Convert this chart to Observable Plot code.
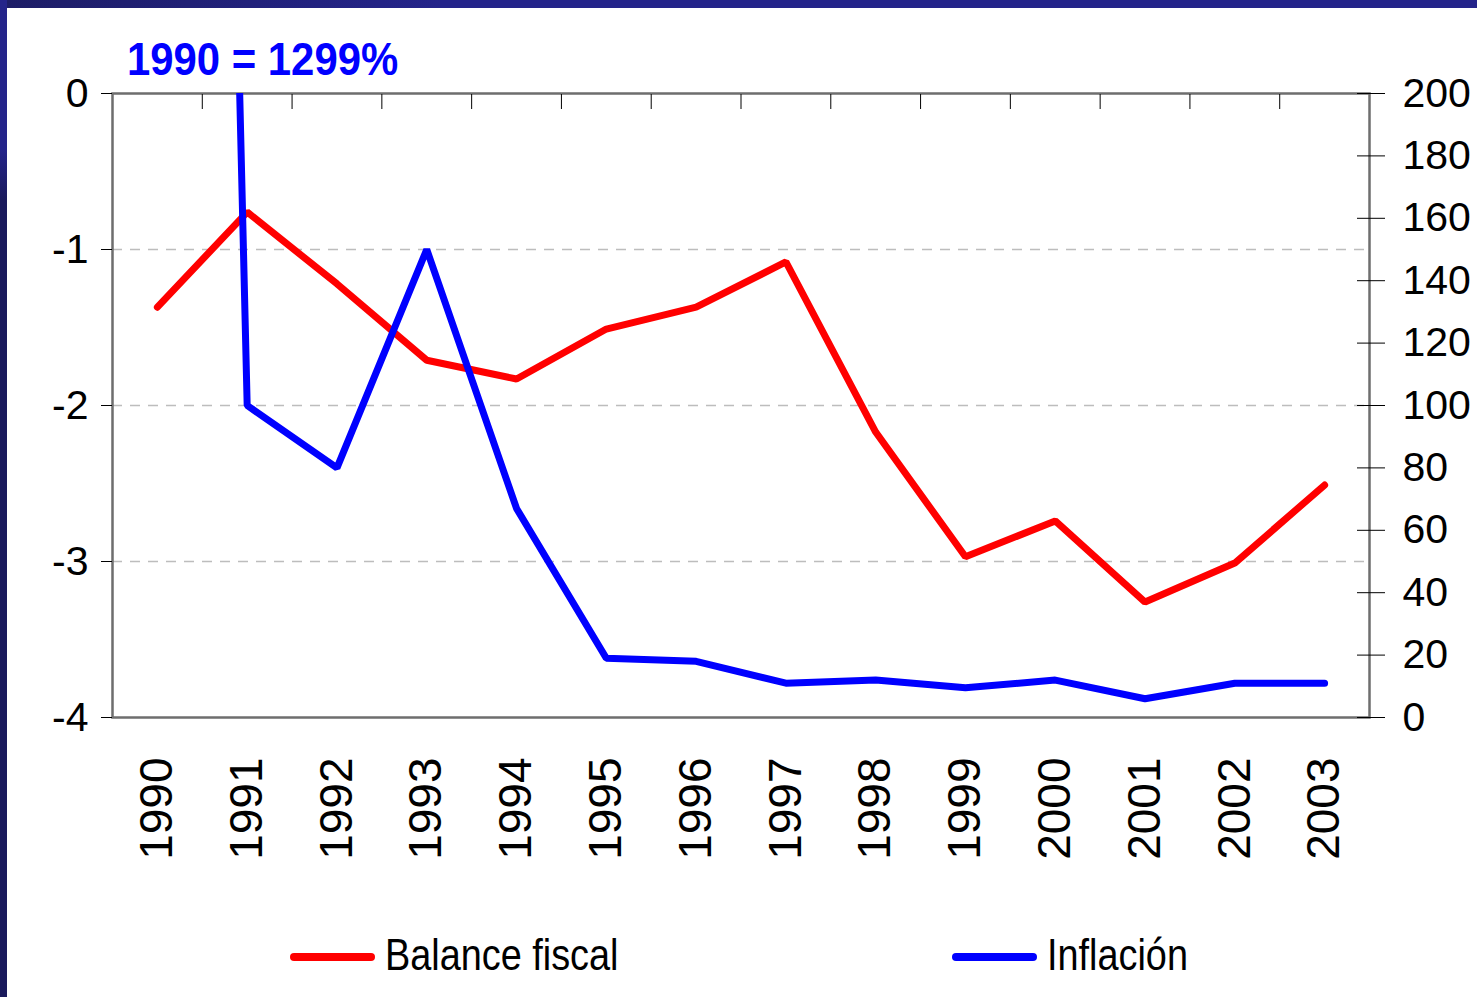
<!DOCTYPE html>
<html>
<head>
<meta charset="utf-8">
<script src="https://cdn.jsdelivr.net/npm/d3@7"></script>
<script src="https://cdn.jsdelivr.net/npm/@observablehq/plot@0.6"></script>
<style>
  html, body { margin: 0; padding: 0; width: 1477px; height: 997px; overflow: hidden; background: #ffffff; font-family: "Liberation Sans", Arial, sans-serif; }
  #bandTop { position: absolute; left: 0; top: 0; width: 1477px; height: 8px; background: linear-gradient(to right, #1d1d66, #24248a 30%, #24248a); }
  #bandLeft { position: absolute; left: 0; top: 0; width: 7px; height: 997px; background: linear-gradient(#24248a, #24248a 15%, #1a1a5c 20%, #1a1a5c); }
  #chart { position: absolute; left: 0; top: 0; }
  #title { position: absolute; left: 127px; top: 36px; font-size: 46px; line-height: 46px; font-weight: bold; color: #0000ff; transform: scaleX(0.91); transform-origin: left center; white-space: nowrap; }
  .lgLine { position: absolute; width: 85px; height: 8px; border-radius: 4px; top: 953px; }
  .lgText { position: absolute; top: 933px; font-size: 44px; line-height: 44px; color: #000; transform: scaleX(0.86); transform-origin: left center; white-space: nowrap; }
</style>
</head>
<body>
<div id="bandTop"></div>
<div id="bandLeft"></div>
<div id="chart"></div>
<div id="title"></div>
<div id="legend"></div>
<script>
// ---- data ----
const years = [1990, 1991, 1992, 1993, 1994, 1995, 1996, 1997, 1998, 1999, 2000, 2001, 2002, 2003];
const balanceFiscal = [-1.37, -0.76, -1.22, -1.71, -1.83, -1.51, -1.37, -1.08, -2.17, -2.97, -2.74, -3.26, -3.01, -2.51];
const inflacion = [1299, 100, 80, 150, 67, 19, 18, 11, 12, 9.5, 12, 6, 11, 11];
const leftTicks = [0, -1, -2, -3, -4];
const rightTicks = [0, 20, 40, 60, 80, 100, 120, 140, 160, 180, 200];
const gridValues = [-1, -2, -3];
const seriesNames = ["Balance fiscal", "Inflación"];
const seriesColors = ["#ff0000", "#0000ff"];
const titleText = "1990 = 1299%";

// dual-axis mapping: right [0,200] onto left [-4,0]
const leftDomain = [-4, 0];
const rightDomain = [0, 200];
const toLeft = v => leftDomain[0] + (v - rightDomain[0]) * (leftDomain[1] - leftDomain[0]) / (rightDomain[1] - rightDomain[0]);
const fromLeft = v => rightDomain[0] + (v - leftDomain[0]) * (rightDomain[1] - rightDomain[0]) / (leftDomain[1] - leftDomain[0]);

const balData = years.map((year, i) => ({year, value: balanceFiscal[i]}));
const infData = years.map((year, i) => ({year, value: toLeft(inflacion[i])}));
const boundaries = years.slice(1).map(y => y - 0.5);
const rightTicksLeft = rightTicks.map(toLeft);

const plot = Plot.plot({
  width: 1477,
  height: 900,
  marginLeft: 112,
  marginRight: 108,
  marginTop: 93,
  marginBottom: 183,
  x: {type: "linear", domain: [years[0] - 0.5, years[years.length - 1] + 0.5], label: null},
  y: {domain: leftDomain, label: null},
  style: {fontFamily: "'Liberation Sans', Arial, sans-serif", color: "#000", background: "transparent", overflow: "visible"},
  marks: [
    Plot.ruleY(gridValues, {stroke: "#bdbdbd", strokeWidth: 1.5, strokeDasharray: "10,8"}),
    Plot.frame({stroke: "#6e6e6e", strokeWidth: 2.5}),
    Plot.axisX(boundaries, {anchor: "top", tickSize: -15, tickFormat: () => "", stroke: "#000"}),
    Plot.axisX(years, {anchor: "bottom", tickSize: 0, tickPadding: 40, tickRotate: -90, fontSize: 46, tickFormat: d => String(d)}),
    Plot.axisY(leftTicks, {anchor: "left", tickSize: 11, tickPadding: 13, fontSize: 41, tickFormat: d => String(d), stroke: "#000"}),
    Plot.axisY(rightTicksLeft, {anchor: "right", tickSize: 15, tickPadding: 18, fontSize: 41, tickFormat: d => String(Math.round(fromLeft(d))), stroke: "#000"}),
    Plot.axisY(rightTicksLeft, {anchor: "right", tickSize: -13, tickFormat: () => "", stroke: "#000"}),
    Plot.line(balData, {x: "year", y: "value", stroke: seriesColors[0], strokeWidth: 7, strokeLinecap: "round", strokeLinejoin: "miter", clip: true}),
    Plot.line(infData, {x: "year", y: "value", stroke: seriesColors[1], strokeWidth: 7, strokeLinecap: "round", strokeLinejoin: "miter", clip: true})
  ]
});
document.getElementById("chart").appendChild(plot);

document.getElementById("title").textContent = titleText;

const legend = document.getElementById("legend");
const lgLineX = [290, 952];
const lgTextX = [385, 1047];
seriesNames.forEach((name, i) => {
  const ln = document.createElement("div");
  ln.className = "lgLine";
  ln.style.left = lgLineX[i] + "px";
  ln.style.background = seriesColors[i];
  legend.appendChild(ln);
  const tx = document.createElement("div");
  tx.className = "lgText";
  tx.style.left = lgTextX[i] + "px";
  tx.textContent = name;
  legend.appendChild(tx);
});
</script>
</body>
</html>
